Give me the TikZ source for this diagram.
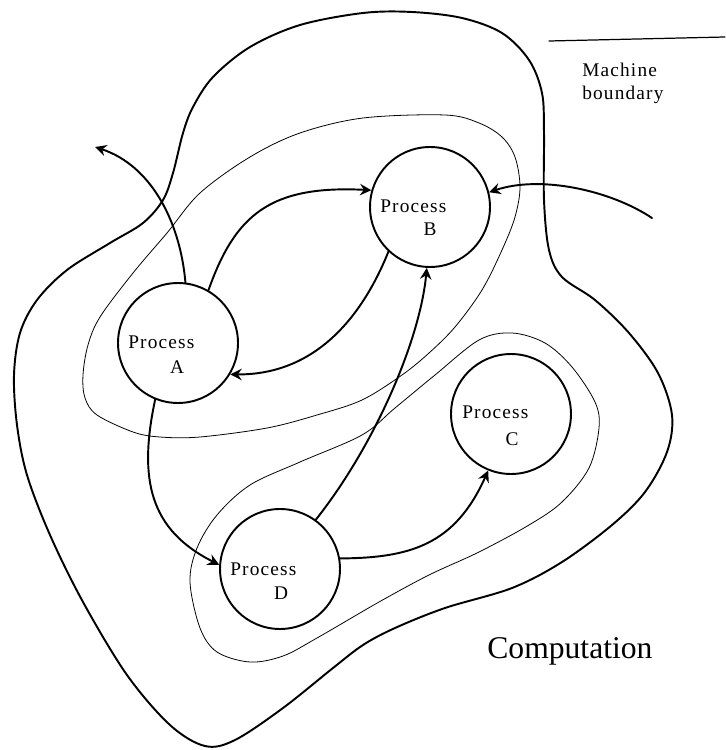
\documentclass[tikz,border=0pt]{standalone}
\usepackage{fontspec}
\setmainfont{Liberation Serif}
\newfontfamily\lblfont{Liberation Serif}[LetterSpace=6]
\usetikzlibrary{arrows.meta}
\begin{document}
\begin{tikzpicture}[x=0.02cm,y=-0.02cm,
  line join=round,line cap=round,
  thickline/.style={line width=1.1pt},
  thinline/.style={line width=0.45pt},
  proc/.style={circle,draw,line width=1.1pt,minimum size=2.4cm,inner sep=0pt},
  lbl/.style={font={\lblfont\fontsize{11}{13}\selectfont},inner sep=0pt,anchor=base west},
  letter/.style={font={\lblfont\fontsize{11}{13}\selectfont},inner sep=0pt,anchor=base},
  link/.style={thickline,-{Stealth[length=6.5pt,width=6.5pt,inset=2.2pt]}}]
\useasboundingbox (0,0) rectangle (725,750);

% machine boundary
\draw[thickline] plot[smooth cycle,tension=0.55] coordinates {
  (412,12) (462,18) (502,33) (529,60) (542,93) (544,133) (544,200)
  (549,250) (562,277) (595,300) (629,333) (658,373) (672,415) (667,452)
  (645,492) (612,525) (562,562) (512,588) (445,608) (395,628) (363,645)
  (333,668) (283,708) (235,740) (205,746) (170,725) (127,675) (83,602)
  (50,535) (27,475) (17,425) (14,375) (20,333) (37,300) (67,270)
  (110,243) (143,223) (163,200) (173,173) (183,133) (193,107) (213,77)
  (250,47) (300,25) (363,13)};

% grouping of processes A and B
\draw[thinline] plot[smooth cycle,tension=0.55] coordinates {
  (363,118) (445,115) (479,123) (502,137) (515,157) (520,187) (515,217)
  (502,250) (482,290) (455,327) (429,353) (402,375) (362,400) (317,415)
  (267,428) (200,437) (160,437) (133,432) (97,415) (85,398) (83,375)
  (88,345) (100,317) (133,273) (167,233) (200,193) (250,157) (300,133)};

% grouping of processes C and D
\draw[thinline] plot[smooth cycle,tension=0.55] coordinates {
  (435,375) (479,340) (512,333) (545,343) (572,367) (595,402) (599,428)
  (589,468) (562,502) (529,525) (479,552) (429,575) (379,602) (317,638)
  (283,656) (250,662) (217,652) (200,628) (190,582) (197,548) (217,515)
  (250,485) (300,462) (362,435) (395,408)};

% processes
\node[proc] (A) at (178,343) {};
\node[proc] (B) at (430,207) {};
\node[proc] (C) at (511,414) {};
\node[proc] (D) at (280,569) {};

\node[lbl] (pA) at (128,348) {Process};
\node[letter] (lA) at (177,373) {A};
\node[lbl] (pB) at (380,212) {Process};
\node[letter] (lB) at (430,235) {B};
\node[lbl] (pC) at (462,418) {Process};
\node[letter] (lC) at (512,445) {C};
\node[lbl] (pD) at (230,575) {Process};
\node[letter] (lD) at (281,599) {D};

% legend
\coordinate (legL) at (549,41);
\coordinate (legR) at (725,37);
\draw[line width=0.7pt] (legL) -- (legR);
\node[lbl] (m1) at (582,77) {Machine};
\node[lbl] (m2) at (582,99) {boundary};

\node[font=\fontsize{18}{20}\selectfont,inner sep=0pt,anchor=base west] (comp) at (487,658) {Computation};

% message paths
\coordinate (outA) at (95,147);
\coordinate (inB) at (652,218);

\draw[link] (A.83) .. controls (180,220) and (150,165) .. (outA);
\draw[link] (A.60) .. controls (235,215) and (270,185) .. (B.164);
\draw[link] (B.227) .. controls (365,310) and (320,375) .. (A.329);
\draw[link] (A.248) .. controls (138,480) and (150,530) .. (D.176);
\draw[link] (D.54) .. controls (375,445) and (420,340) .. (B.267);
\draw[link] (D.10) .. controls (410,558) and (455,545) .. (C.248);
\draw[link] (inB) .. controls (610,190) and (540,175) .. (B.14);
\end{tikzpicture}
\end{document}
